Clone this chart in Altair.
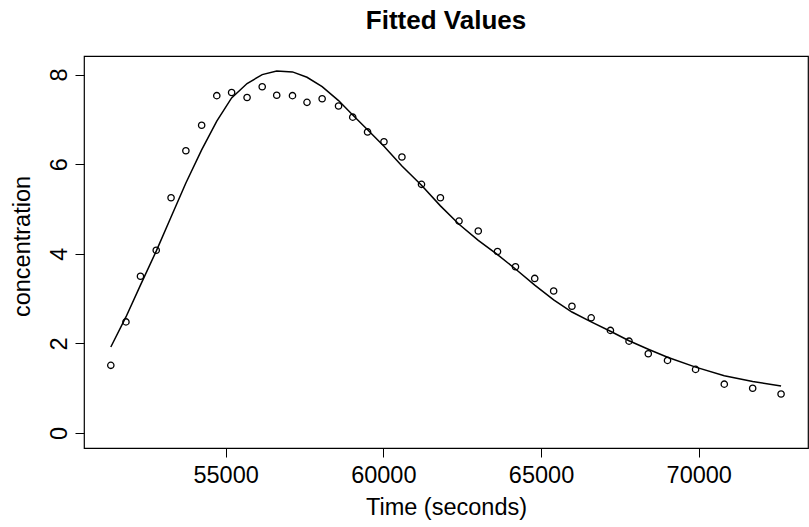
import altair as alt
import pandas as pd

# Observation times (seconds)
time_s = [51360, 51840, 52300, 52800, 53270, 53740, 54240, 54720, 55190, 55680,
          56160, 56620, 57120, 57580, 58060, 58580, 59030, 59500, 60020, 60590,
          61210, 61810, 62400, 63010, 63620, 64190, 64800, 65400, 65980, 66590,
          67200, 67790, 68400, 69010, 69900, 70810, 71710, 72610]

# Observed concentration (circles)
observed = [1.51, 2.48, 3.50, 4.08, 5.25, 6.30, 6.87, 7.53, 7.60, 7.49,
            7.73, 7.54, 7.53, 7.38, 7.46, 7.30, 7.05, 6.72, 6.50, 6.16,
            5.55, 5.25, 4.73, 4.51, 4.05, 3.71, 3.45, 3.17, 2.83, 2.57,
            2.29, 2.05, 1.77, 1.62, 1.42, 1.09, 1.00, 0.87]

# Fitted concentration (line)
fitted = [1.92, 2.59, 3.30, 4.06, 4.82, 5.58, 6.32, 6.96, 7.48, 7.80,
          8.00, 8.08, 8.06, 7.94, 7.73, 7.42, 7.10, 6.77, 6.40, 5.96,
          5.53, 5.07, 4.66, 4.30, 3.98, 3.66, 3.30, 2.97, 2.70, 2.48,
          2.27, 2.06, 1.87, 1.69, 1.47, 1.28, 1.15, 1.05]

x_ticks = [55000, 60000, 65000, 70000]
y_ticks = [0, 2, 4, 6, 8]
title_text = ["Fitted Values"]

df = pd.DataFrame({"time": time_s, "obs": observed, "fit": fitted})
tdf = pd.DataFrame({"t": title_text})

FONT = "Liberation Sans"
FS = 23.5

xscale = alt.Scale(domain=[50510, 73464], nice=False, zero=False)
yscale = alt.Scale(domain=[-0.335, 8.415], nice=False, zero=False)

xaxis = alt.Axis(
    title="Time (seconds)", values=x_ticks, format="d", grid=False, domain=False,
    ticks=True, tickSize=9, tickColor="black", tickWidth=1,
    labelFont=FONT, labelFontSize=FS, labelColor="black", labelPadding=6,
    labelFlush=False, labelOverlap=False,
    titleFont=FONT, titleFontSize=FS, titleFontWeight="normal", titleColor="black",
    titleBaseline="alphabetic", titleY=66, titleX=362, titleAnchor="middle",
)
yaxis = alt.Axis(
    title="concentration", values=y_ticks, format="d", grid=False, domain=False,
    ticks=True, tickSize=9, tickColor="black", tickWidth=1,
    labelFont=FONT, labelFontSize=FS, labelColor="black", labelPadding=9,
    labelAngle=270, labelAlign="center", labelBaseline="alphabetic",
    labelFlush=False, labelOverlap=False,
    titleFont=FONT, titleFontSize=FS, titleFontWeight="normal", titleColor="black",
    titleAngle=270, titleBaseline="alphabetic", titleAlign="center",
    titleX=-55, titleY=190,
)

base = alt.Chart(df)

line = base.mark_line(color="black", strokeWidth=1.5).encode(
    x=alt.X("time:Q", scale=xscale, axis=xaxis),
    y=alt.Y("fit:Q", scale=yscale, axis=yaxis),
)

points = base.mark_point(shape="circle", filled=False, color="black",
                         size=40, strokeWidth=1.3, opacity=1).encode(
    x=alt.X("time:Q", scale=xscale),
    y=alt.Y("obs:Q", scale=yscale),
)

title = alt.Chart(tdf).mark_text(
    font=FONT, fontSize=26, fontWeight="bold", color="black",
    align="center", baseline="alphabetic",
).encode(text="t:N", x=alt.value(362), y=alt.value(-27))

chart = alt.layer(line, points, title).properties(
    width=724, height=392,
    autosize=alt.AutoSizeParams(type="none"),
    padding={"left": 84, "top": 56, "right": 1, "bottom": 79},
    background="white",
).configure_view(
    stroke="black", strokeWidth=1.2, strokeOpacity=1
)

chart.save("out.html", embed_options={"renderer": "svg", "actions": False})
